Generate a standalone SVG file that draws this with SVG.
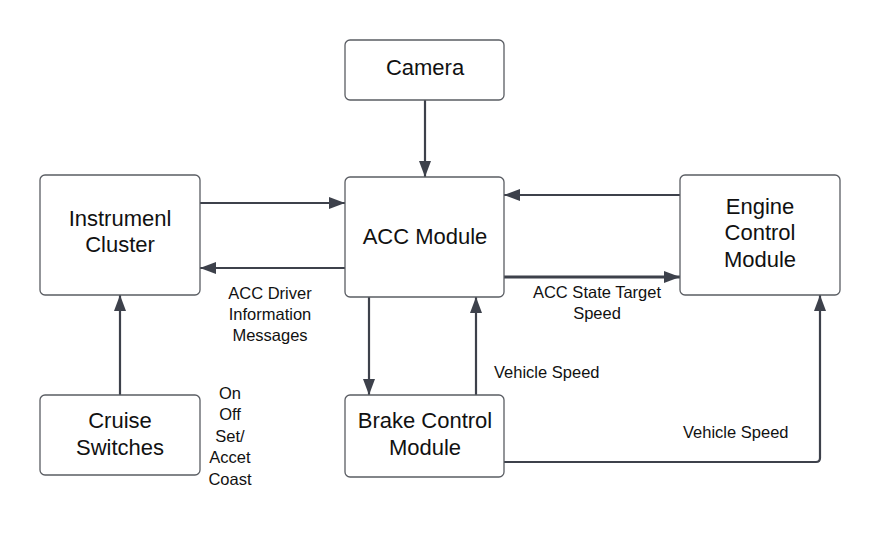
<svg xmlns="http://www.w3.org/2000/svg" width="880" height="533" viewBox="0 0 880 533">
<style>
.n{fill:#fff;stroke:#5a5d63;stroke-width:1.3}
.t{font-family:"Liberation Sans",Arial,sans-serif;font-size:22px;fill:#111;text-anchor:middle}
.l{font-family:"Liberation Sans",Arial,sans-serif;font-size:16.5px;fill:#111}
.c{fill:none;stroke:#3d414b;stroke-width:2.2}
</style>
<defs>
<marker id="a" viewBox="0 0 16 12" refX="16" refY="6" markerWidth="16" markerHeight="12" markerUnits="userSpaceOnUse" orient="auto">
<path d="M0,0L16,6L0,12z" fill="#3d414b"/>
</marker>
</defs>
<rect width="880" height="533" fill="#fff"/>
<g id="connectors">
<path class="c" d="M425,100V177" marker-end="url(#a)"/>
<path class="c" d="M200,203H345" marker-end="url(#a)"/>
<path class="c" d="M345,268H200" marker-end="url(#a)"/>
<path class="c" d="M680,195H504" marker-end="url(#a)"/>
<path class="c" d="M504,277H680" style="stroke-width:3" marker-end="url(#a)"/>
<path class="c" d="M369,297V395" marker-end="url(#a)"/>
<path class="c" d="M476,395V297" marker-end="url(#a)"/>
<path class="c" d="M504,462H816Q820,462 820,458V295" marker-end="url(#a)"/>
<path class="c" d="M120,395V295" marker-end="url(#a)"/>
<text class="l" x="270" y="299" text-anchor="middle">ACC Driver</text>
<text class="l" x="270" y="320" text-anchor="middle">Information</text>
<text class="l" x="270" y="341" text-anchor="middle">Messages</text>
<text class="l" x="597" y="298" text-anchor="middle">ACC State Target</text>
<text class="l" x="597" y="319" text-anchor="middle">Speed</text>
<text class="l" x="494" y="378">Vehicle Speed</text>
<text class="l" x="683" y="438">Vehicle Speed</text>
<text class="l" x="230" y="399" text-anchor="middle">On</text>
<text class="l" x="230" y="420" text-anchor="middle">Off</text>
<text class="l" x="230" y="442" text-anchor="middle">Set/</text>
<text class="l" x="230" y="463" text-anchor="middle">Accet</text>
<text class="l" x="230" y="485" text-anchor="middle">Coast</text>
</g>
<g id="camera"><rect class="n" x="345" y="40" width="159" height="60" rx="5"/><text class="t" x="425" y="75">Camera</text></g>
<g id="instrument"><rect class="n" x="40" y="175" width="160" height="120" rx="5"/><text class="t" x="120" y="226">Instrumenl</text><text class="t" x="120" y="252">Cluster</text></g>
<g id="acc"><rect class="n" x="345" y="177" width="159" height="120" rx="5"/><text class="t" x="425" y="244">ACC Module</text></g>
<g id="engine"><rect class="n" x="680" y="175" width="160" height="120" rx="5"/><text class="t" x="760" y="214">Engine</text><text class="t" x="760" y="240">Control</text><text class="t" x="760" y="267">Module</text></g>
<g id="cruise"><rect class="n" x="40" y="395" width="160" height="80" rx="5"/><text class="t" x="120" y="428">Cruise</text><text class="t" x="120" y="455">Switches</text></g>
<g id="brake"><rect class="n" x="345" y="395" width="159" height="82" rx="5"/><text class="t" x="425" y="428">Brake Control</text><text class="t" x="425" y="455">Module</text></g>
</svg>
